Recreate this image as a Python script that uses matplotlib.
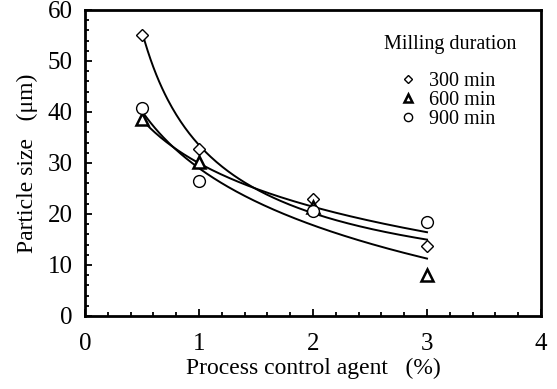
import matplotlib.pyplot as plt
import numpy as np
from matplotlib.ticker import MultipleLocator

plt.rcParams['font.family'] = ['Liberation Serif', 'DejaVu Serif']

# data
pca = [0.5, 1, 2, 3]
size_300 = [55.0, 32.7, 22.9, 13.7]
size_600 = [38.6, 30.2, 21.4, 8.0]
size_900 = [40.8, 26.5, 20.6, 18.4]

fig = plt.figure(figsize=(5.57, 3.89), dpi=100)
ax = fig.add_axes([0.1526, 0.1877, 0.8187, 0.7866])

xs = np.linspace(0.5, 3, 200)

# 300 min: power fit, 600/900 min: log fit
b, lna = np.polyfit(np.log(pca), np.log(size_300), 1)
ax.plot(xs, np.exp(lna) * xs**b, color='black', lw=1.4)
for vals in (size_600, size_900):
    k, c = np.polyfit(np.log(pca), vals, 1)
    ax.plot(xs, c + k * np.log(xs), color='black', lw=1.4)

ax.plot(pca, size_300, 'D', ms=6.5, mfc='white', mec='black', mew=1.0,
        label='300 min', zorder=3)
ax.plot(pca, size_600, '^', ms=8.5, mfc='white', mec='black', mew=1.8,
        label='600 min', zorder=3)
ax.plot(pca, size_900, 'o', ms=8.5, mfc='white', mec='black', mew=1.0,
        label='900 min', zorder=3)

ax.set_xlim(0, 4)
ax.set_ylim(0, 60)
ax.xaxis.set_major_locator(MultipleLocator(1))
ax.xaxis.set_minor_locator(MultipleLocator(0.2))
ax.yaxis.set_major_locator(MultipleLocator(10))
ax.yaxis.set_minor_locator(MultipleLocator(2))
ax.tick_params(axis='x', which='major', direction='in', length=5, width=1.3,
               pad=12, labelsize=18)
ax.tick_params(axis='x', which='minor', direction='in', length=3, width=1.3)
ax.tick_params(axis='y', which='major', direction='in', length=5, width=1.3,
               pad=9, labelsize=18)
ax.tick_params(axis='y', which='minor', direction='in', length=3, width=1.3)
for s in ax.spines.values():
    s.set_linewidth(2.0)

ax.set_xlabel('Process control agent   (%)', fontsize=17, labelpad=2)
ax.set_ylabel('Particle size   (μm)', fontsize=17, labelpad=7)

ax.text(0.80, 0.886, 'Milling duration', transform=ax.transAxes,
        ha='center', va='center', fontsize=14.5)
ax.legend(loc='upper left', bbox_to_anchor=(0.665, 0.83), frameon=False,
          fontsize=14.5, handletextpad=0.5, labelspacing=0.0,
          handlelength=1.0, markerscale=0.7, borderpad=0)

fig.savefig('out.png', dpi=100)
